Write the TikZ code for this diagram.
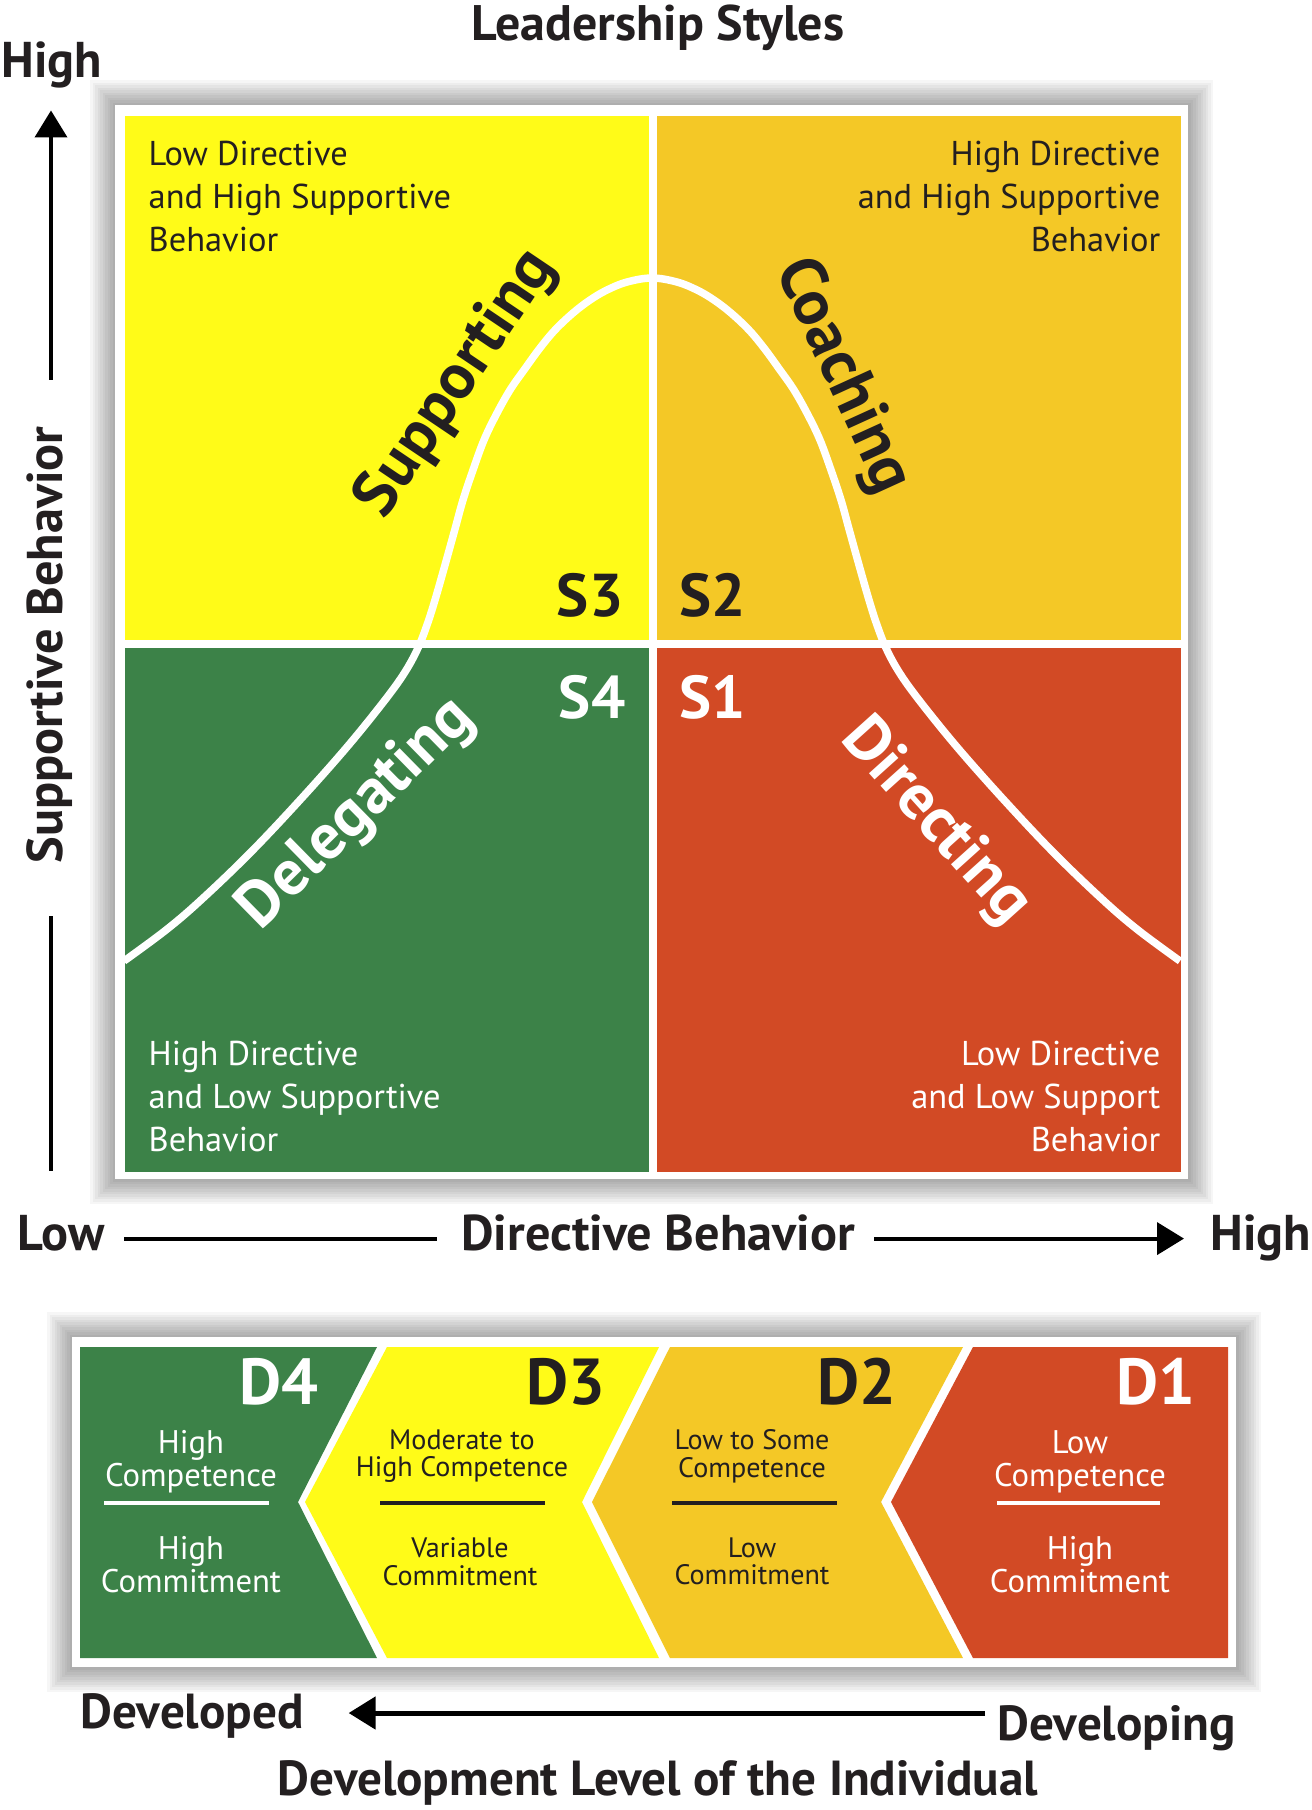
\documentclass[tikz,border=0pt]{standalone}
\usepackage{fontspec}
\setmainfont{PT Sans}
\usetikzlibrary{arrows.meta}

\definecolor{QYellow}{RGB}{255,251,24}
\definecolor{QGold}{RGB}{244,200,38}
\definecolor{QGreen}{RGB}{60,130,72}
\definecolor{QRed}{RGB}{210,74,37}
\definecolor{Ink}{RGB}{35,31,32}

\newcommand{\drawframe}[4]{% Parameters: left, top, right, bottom
  \foreach \s in {1,...,10}
    \fill[black,opacity=0.035] (#1-2.5*\s,#2-2.5*\s) rectangle (#3+2.5*\s,#4+2.5*\s);
  \fill[white] (#1,#2) rectangle (#3,#4);
}
\newcommand{\drawchevron}[5]{% Parameters: colour, left top x, left tip x, right top x, right tip x
  \fill[#1] (#2,1347) -- (#4,1347) -- (#5,1502) -- (#4,1658) -- (#2,1658) -- (#3,1502) -- cycle;
}

\tikzset{
  quadrant/.style={anchor=north west,minimum width=52.4mm,minimum height=52.4mm},
  axislabel/.style={font=\fontsize{14.3}{17}\selectfont\bfseries,text height=0.7em,text depth=0.05em},
  devlabel/.style={font=\fontsize{14}{17}\selectfont\bfseries},
  quadtext/.style={font=\fontsize{9.8}{12.25}\selectfont},
  stylename/.style={font=\fontsize{18.3}{21}\selectfont\bfseries},
  slabel/.style={font=\fontsize{17.2}{20}\selectfont\bfseries},
  dlabel/.style={font=\fontsize{18.5}{21}\selectfont\bfseries},
  bigdesc/.style={font=\fontsize{9.3}{9.4}\selectfont,align=center,anchor=north},
  smalldesc/.style={font=\fontsize{8}{7.8}\selectfont,align=center,anchor=north},
  axisline/.style={line width=0.4mm},
  axisarrow/.style={axisline,-{Triangle[length=2.7mm,width=3.2mm]}},
  bellcurve/.style={white,line width=0.75mm},
  sepline/.style={line width=0.4mm},
}

\begin{document}
\begin{tikzpicture}[x=0.1mm,y=-0.1mm,every node/.style={inner sep=0pt,text=Ink}]
  \useasboundingbox (0,0) rectangle (1312,1810);
  \fill[white] (0,0) rectangle (1312,1810);

  % title and supportive axis
  \node[font=\fontsize{14.2}{17}\selectfont\bfseries,anchor=base] (title) at (658,40) {Leadership Styles};
  \node[axislabel,anchor=base west] (highy) at (1,77) {High};
  \node[axislabel,rotate=90] (supp) at (51,645) {Supportive Behavior};
  \coordinate (ybot) at (52,1171);
  \draw[axisarrow,shorten <=4.6mm,shorten >=3.1mm] (supp) -- (supp |- highy.south);
  \draw[axisline,shorten <=5.2mm] (supp) -- (supp |- ybot);

  % the four quadrants
  \drawframe{115}{105}{1188}{1179}
  \node[quadrant,fill=QYellow] (q3) at (124,115) {};
  \node[quadrant,fill=QGold] (q2) at (656,115) {};
  \node[quadrant,fill=QGreen] (q4) at (124,647) {};
  \node[quadrant,fill=QRed] (q1) at (656,647) {};

  \draw[bellcurve] plot[smooth,tension=0.6] coordinates {(124,961) (166,930) (201,900)
    (250,853) (300,800) (347,747) (385,700) (405,672) (418,648) (427,625) (435,600)
    (445,565) (455,529) (463,500) (473,470) (484,440) (496,415) (510,390) (524,370)
    (540,348) (555,330) (573,313) (590,300) (607,290) (627,282) (652,278)
    (677,282) (697,290) (714,300) (731,313) (749,330) (764,348) (780,370) (794,390)
    (808,415) (820,440) (831,470) (841,500) (849,529) (859,565) (869,600) (877,625)
    (886,648) (899,672) (919,700) (957,747) (1004,800) (1054,853) (1103,900)
    (1138,930) (1180,961)};

  \node[quadtext,anchor=north west,align=left] (desc3) at (148,140) {Low Directive\\and High Supportive\\Behavior};
  \node[quadtext,anchor=north east,align=right] (desc2) at (1161,140) {High Directive\\and High Supportive\\Behavior};
  \node[quadtext,anchor=north west,align=left,text=white] (desc4) at (148,1040) {High Directive\\and Low Supportive\\Behavior};
  \node[quadtext,anchor=north east,align=right,text=white] (desc1) at (1161,1040) {Low Directive\\and Low Support\\Behavior};

  \node[slabel,anchor=base east] (s3) at (624,616) {S3};
  \node[slabel,anchor=base west] (s2) at (679,616) {S2};
  \node[slabel,anchor=base east,text=white] (s4) at (626,718) {S4};
  \node[slabel,anchor=base west,text=white] (s1) at (679,718) {S1};

  \node[stylename,rotate=56] (supporting) at (457,384) {Supporting};
  \node[stylename,rotate=-65.5] (coaching) at (842,376) {Coaching};
  \node[stylename,rotate=44.5,text=white] (delegating) at (357,814) {Delegating};
  \node[stylename,rotate=-48,text=white] (directing) at (935,822) {Directing};

  % directive axis
  \node[axislabel,anchor=base west] (low) at (17,1250) {Low};
  \node[axislabel,anchor=base] (dirb) at (658,1250) {Directive Behavior};
  \node[axislabel,anchor=base west] (highx) at (1210,1250) {High};
  \draw[axisline,shorten <=1.9mm,shorten >=2.4mm] (low) -- (dirb);
  \draw[axisarrow,shorten <=1.9mm,shorten >=2.6mm] (dirb) -- (highx);

  % development levels
  \drawframe{72}{1337}{1236}{1667}
  \drawchevron{QGreen}{80}{80}{377}{298}
  \drawchevron{QYellow}{387}{305}{659}{582}
  \drawchevron{QGold}{670}{592}{963}{881}
  \drawchevron{QRed}{973}{891}{1228}{1228}

  \node[dlabel,anchor=base east,text=white] (d4) at (319,1404) {D4};
  \node[dlabel,anchor=base east] (d3) at (606,1404) {D3};
  \node[dlabel,anchor=base east] (d2) at (897,1404) {D2};
  \node[dlabel,anchor=base east,text=white] (d1) at (1196,1404) {D1};

  \node[bigdesc,text=white] (comp4) at (191,1430) {High\\Competence};
  \node[bigdesc,text=white] (comm4) at (191,1536) {High\\Commitment};
  \draw[sepline,white] (104,1503) -- (269,1503);
  \node[smalldesc] (comp3) at (462,1429) {Moderate to\\High Competence};
  \node[smalldesc] (comm3) at (460,1537) {Variable\\Commitment};
  \draw[sepline,Ink] (380,1503) -- (545,1503);
  \node[smalldesc] (comp2) at (752,1429) {Low to Some\\Competence};
  \node[smalldesc] (comm2) at (752,1537) {Low\\Commitment};
  \draw[sepline,Ink] (672,1503) -- (837,1503);
  \node[bigdesc,text=white] (comp1) at (1080,1430) {Low\\Competence};
  \node[bigdesc,text=white] (comm1) at (1080,1536) {High\\Commitment};
  \draw[sepline,white] (997,1503) -- (1160,1503);

  \node[devlabel,anchor=base west] (developed) at (80,1728) {Developed};
  \node[devlabel,anchor=base west] (developing) at (997,1740) {Developing};
  \node[devlabel,anchor=base] (devlevel) at (658,1795) {Development Level of the Individual};
  \coordinate (devstart) at (985,1713);
  \draw[axisarrow,line width=0.5mm,shorten >=4.4mm] (devstart) -- (devstart -| developed.east);
\end{tikzpicture}
\end{document}
